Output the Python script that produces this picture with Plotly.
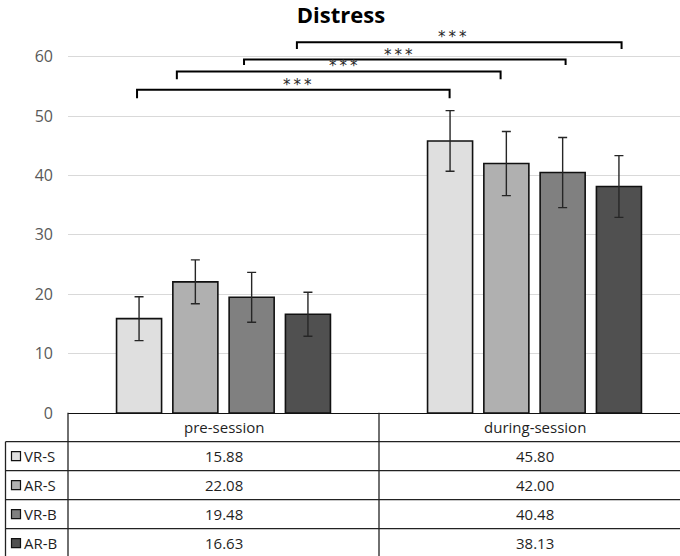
import plotly.graph_objects as go

# ---------------- data ----------------
categories = ["pre-session", "during-session"]
series_names = ["VR-S", "AR-S", "VR-B", "AR-B"]
vr_s = [15.88, 45.80]
ar_s = [22.08, 42.00]
vr_b = [19.48, 40.48]
ar_b = [16.63, 38.13]
vr_s_err = [3.7, 5.1]
ar_s_err = [3.7, 5.4]
vr_b_err = [4.2, 5.9]
ar_b_err = [3.7, 5.2]
y_ticks = [0, 10, 20, 30, 40, 50, 60]

# significance brackets (x in category units, y in data units)
bracket_left = [-0.278, -0.150, 0.066, 0.236]
bracket_right = [0.727, 0.891, 1.100, 1.280]
bracket_y = [54.4, 57.5, 59.5, 62.4]
bracket_drop = [1.4, 1.3, 0.9, 1.1]
bracket_label_x = [0.238, 0.387, 0.563, 0.736]
bracket_label = ["*\u2009*\u2009*"] * 4

# ---------------- styling ----------------
colors = ["#dfdfdf", "#b0b0b0", "#808080", "#505050"]
FONT = "Open Sans"
W, H = 680, 556
L, R, T, B = 68, 0, 20, 143
px_per_unit = 5.94
y_max = (H - T - B) / px_per_unit
x_range = [-0.5, -0.5 + (W - L - R) / 311.0]

def pxx(px):
    return (px - L) / (W - L - R)

def pxy(py):
    return (H - B - py) / (H - T - B)

def cat_paper(x):
    return (x - x_range[0]) / (x_range[1] - x_range[0])

values = [vr_s, ar_s, vr_b, ar_b]
errors = [vr_s_err, ar_s_err, vr_b_err, ar_b_err]

fig = go.Figure()
for name, vals, errs, col in zip(series_names, values, errors, colors):
    fig.add_trace(go.Bar(
        x=[0, 1], y=vals, name=name,
        marker=dict(color=col, line=dict(color="#111111", width=1.6)),
        error_y=dict(type="data", array=errs, visible=True,
                     color="#262626", thickness=1.4, width=4.5),
    ))

shapes = []
annotations = []

# significance brackets
for xl, xr, yb, dr, lx, lab in zip(bracket_left, bracket_right, bracket_y,
                                   bracket_drop, bracket_label_x, bracket_label):
    shapes.append(dict(type="path", xref="x", yref="y",
                       path=f"M {xl},{yb - dr} L {xl},{yb} L {xr},{yb} L {xr},{yb - dr}",
                       line=dict(color="#000000", width=2)))
    annotations.append(dict(x=lx, y=yb, xref="x", yref="y", text=lab,
                            showarrow=False, xanchor="center", yanchor="bottom",
                            yshift=-6,
                            font=dict(family="DejaVu Sans", size=15, color="#262626")))

# data table
line_style = dict(color="#222222", width=1.3)
row_top = 412.7
row_h = 29.0
n_rows = len(series_names) + 1
left_x = 5.5
# vertical lines
shapes.append(dict(type="line", xref="paper", yref="paper",
                   x0=0, x1=0, y0=pxy(row_top), y1=pxy(H + 2), line=line_style))
shapes.append(dict(type="line", xref="paper", yref="paper",
                   x0=cat_paper(0.5), x1=cat_paper(0.5),
                   y0=pxy(row_top), y1=pxy(H + 2), line=line_style))
shapes.append(dict(type="line", xref="paper", yref="paper",
                   x0=pxx(left_x), x1=pxx(left_x),
                   y0=pxy(row_top + row_h), y1=pxy(H + 2), line=line_style))
# horizontal lines
for k in range(1, n_rows):
    yy = pxy(row_top + k * row_h)
    shapes.append(dict(type="line", xref="paper", yref="paper",
                       x0=pxx(left_x), x1=1, y0=yy, y1=yy, line=line_style))

# header
for i, c in enumerate(categories):
    annotations.append(dict(x=i, y=pxy(row_top + row_h / 2), xref="x", yref="paper",
                            text=c, showarrow=False, xanchor="center", yanchor="middle",
                            font=dict(family=FONT, size=15, color="#1f1f1f")))
# rows
for r, (name, vals, col) in enumerate(zip(series_names, values, colors)):
    yc = row_top + row_h * (r + 1.5)
    # legend key
    shapes.append(dict(type="rect", xref="paper", yref="paper",
                       x0=pxx(11.5), x1=pxx(20.5), y0=pxy(yc - 4.5), y1=pxy(yc + 4.5),
                       fillcolor=col, line=dict(color="#111111", width=1.2)))
    annotations.append(dict(x=pxx(22), y=pxy(yc), xref="paper", yref="paper",
                            text=name, showarrow=False, xanchor="left", yanchor="middle",
                            font=dict(family=FONT, size=15, color="#1f1f1f")))
    for i, v in enumerate(vals):
        annotations.append(dict(x=i, y=pxy(yc), xref="x", yref="paper",
                                text=f"{v:.2f}", showarrow=False,
                                xanchor="center", yanchor="middle",
                                font=dict(family=FONT, size=15, color="#1f1f1f")))

fig.update_layout(
    width=W, height=H,
    margin=dict(l=L, r=R, t=T, b=B, pad=0),
    paper_bgcolor="white", plot_bgcolor="white",
    barmode="group", bargap=0.276, bargroupgap=0.2,
    showlegend=False,
    title=dict(text="<b>Distress</b>", x=341 / W, xref="container", xanchor="center",
               y=1 - 15 / H, yref="container", yanchor="middle",
               font=dict(family=FONT, size=22, color="#000000")),
    xaxis=dict(range=x_range, showticklabels=False, showgrid=False, zeroline=False,
               showline=True, linecolor="#111111", linewidth=1.3, ticks=""),
    yaxis=dict(range=[0, y_max], tickvals=y_ticks, showgrid=True,
               gridcolor="#d9d9d9", gridwidth=1.2, zeroline=False, showline=False,
               ticks="", ticklabelstandoff=14,
               tickfont=dict(family=FONT, size=16, color="#595959")),
    shapes=shapes, annotations=annotations,
)

fig.write_html("out.html")
